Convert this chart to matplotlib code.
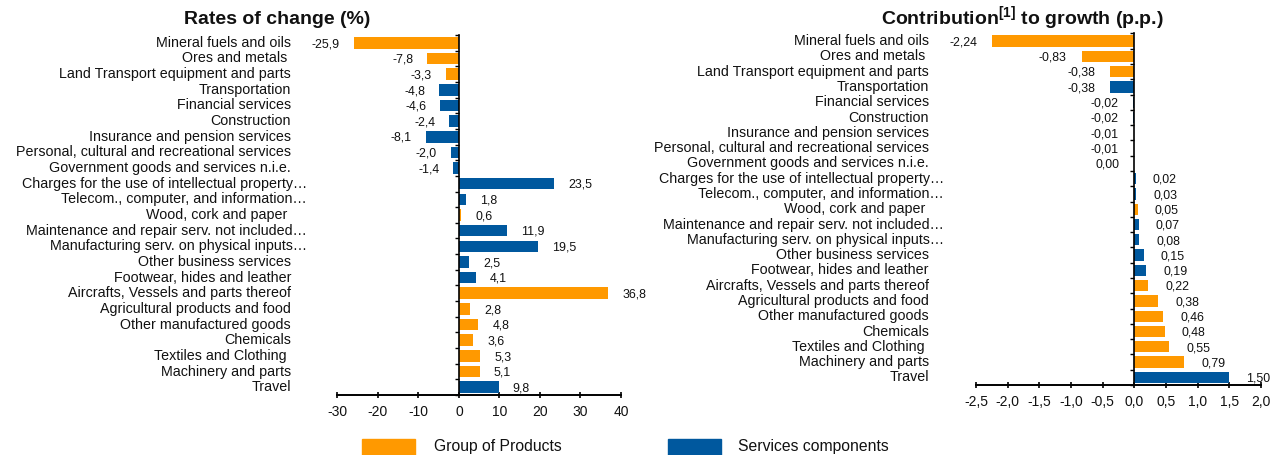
import matplotlib
matplotlib.use('Agg')
import numpy as np
import matplotlib.pyplot as plt
from matplotlib.transforms import blended_transform_factory
from matplotlib.patches import Rectangle

plt.rcParams['font.family'] = ['Liberation Sans', 'DejaVu Sans']
plt.rcParams['mathtext.fontset'] = 'custom'
plt.rcParams['mathtext.rm'] = 'Liberation Sans'
plt.rcParams['mathtext.bf'] = 'Liberation Sans:bold'

categories = [
    "Mineral fuels and oils", "Ores and metals ", "Land Transport equipment and parts",
    "Transportation", "Financial services", "Construction",
    "Insurance and pension services", "Personal, cultural and recreational services",
    "Government goods and services n.i.e.", "Charges for the use of intellectual property…",
    "Telecom., computer, and information…", "Wood, cork and paper ",
    "Maintenance and repair serv. not included…", "Manufacturing serv. on physical inputs…",
    "Other business services", "Footwear, hides and leather",
    "Aircrafts, Vessels and parts thereof", "Agricultural products and food",
    "Other manufactured goods", "Chemicals", "Textiles and Clothing ",
    "Machinery and parts", "Travel",
]
groups = ["P", "P", "P", "S", "S", "S", "S", "S", "S", "S", "S", "P",
          "S", "S", "S", "S", "P", "P", "P", "P", "P", "P", "S"]
rates = [-25.9, -7.8, -3.3, -4.8, -4.6, -2.4, -8.1, -2.0, -1.4, 23.5, 1.8, 0.6,
         11.9, 19.5, 2.5, 4.1, 36.8, 2.8, 4.8, 3.6, 5.3, 5.1, 9.8]
contrib = [-2.24, -0.83, -0.38, -0.38, -0.02, -0.02, -0.01, -0.01, 0.00, 0.02, 0.03, 0.05,
           0.07, 0.08, 0.15, 0.19, 0.22, 0.38, 0.46, 0.48, 0.55, 0.79, 1.50]
rate_ticks = [-30, -20, -10, 0, 10, 20, 30, 40]
contrib_ticks = [-2.5, -2.0, -1.5, -1.0, -0.5, 0.0, 0.5, 1.0, 1.5, 2.0]
legend_labels = {"P": "Group of Products", "S": "Services components"}

ORANGE = "#FF9900"
BLUE = "#00589E"
colmap = {"P": ORANGE, "S": BLUE}
TXT = "#111111"
CAT_FS = 10.3
VAL_FS = 8.9
TICK_FS = 10

W, H = 1282, 455
fig = plt.figure(figsize=(W / 100, H / 100), dpi=100)


def draw(rect, values, ticks, tick_dec, val_dec, lab_x, ell_x, gap_neg_px, gap_pos_px):
    ax = fig.add_axes(rect)
    n = len(values)
    idx = np.arange(n)
    colors = [colmap[g] for g in groups]
    ax.barh(idx, values, height=0.74, color=colors, zorder=2)
    xmin, xmax = ticks[0], ticks[-1]
    ax.set_xlim(xmin, xmax)
    ax.set_ylim(n - 0.5, -0.5)
    for s in ("top", "right"):
        ax.spines[s].set_visible(False)
    ax.spines["left"].set_position(("data", 0))
    ax.spines["left"].set_linewidth(1.2)
    ax.spines["bottom"].set_linewidth(1.4)
    ax.spines["left"].set_zorder(3)
    ax.set_yticks(np.arange(-0.5, n, 1.0))
    ax.tick_params(axis="y", direction="out", length=3, width=1, labelleft=False)
    ax.set_xticks(ticks, [f"{t:.{tick_dec}f}".replace(".", ",") for t in ticks])
    ax.tick_params(axis="x", direction="inout", length=4, width=1.2,
                   labelsize=TICK_FS, pad=5.5, colors="black")
    for lab in ax.get_xticklabels():
        lab.set_color(TXT)
    upx = (xmax - xmin) / (rect[2] * W)  # data units per pixel
    tr = blended_transform_factory(ax.transAxes, ax.transData)
    for i, (c, v) in enumerate(zip(categories, values)):
        x = ell_x if c.endswith("…") else lab_x
        ax.text(x, i, c, transform=tr, ha="right", va="center", fontsize=CAT_FS,
                color=TXT)
        s = f"{v:.{val_dec}f}".replace(".", ",")
        if v > 0:
            ax.text(min(v + gap_pos_px * upx, xmax + 4 * upx), i + 0.08, s,
                    ha="left", va="center", fontsize=VAL_FS, color=TXT, clip_on=False)
        else:
            ax.text(v - gap_neg_px * upx, i + 0.08, s, ha="right", va="center",
                    fontsize=VAL_FS, color=TXT, clip_on=False)
    return ax


def frac_rect(x0, x1, ytop, ybot):
    return [x0 / W, 1 - ybot / H, (x1 - x0) / W, (ybot - ytop) / H]


ax1 = draw(frac_rect(337.3, 621, 35, 395), rates, rate_ticks, 0, 1,
           -0.163, -0.107, 14, 14)
ax2 = draw(frac_rect(976, 1261, 33.5, 385), contrib, contrib_ticks, 1, 2,
           -0.165, -0.112, 15, 17)

fig.text(277 / W, 1 - 19.5 / H, "Rates of change (%)", ha="center", va="center",
         fontsize=14, fontweight="bold", color=TXT)
fig.text(1022.5 / W, 1 - 19 / H, r"Contribution$^{\mathbf{[1]}}$ to growth (p.p.)",
         ha="center", va="center", fontsize=14, fontweight="bold", color=TXT)

# legend
for key, px, tx in (("P", 362, 434), ("S", 667.5, 737.5)):
    fig.add_artist(Rectangle((px / W, 0), 53 / W, 16 / H,
                             transform=fig.transFigure, color=colmap[key]))
    fig.text(tx / W, 1 - 446 / H, legend_labels[key], ha="left", va="center",
             fontsize=11.3, color=TXT)

fig.savefig("out.png", dpi=100)
